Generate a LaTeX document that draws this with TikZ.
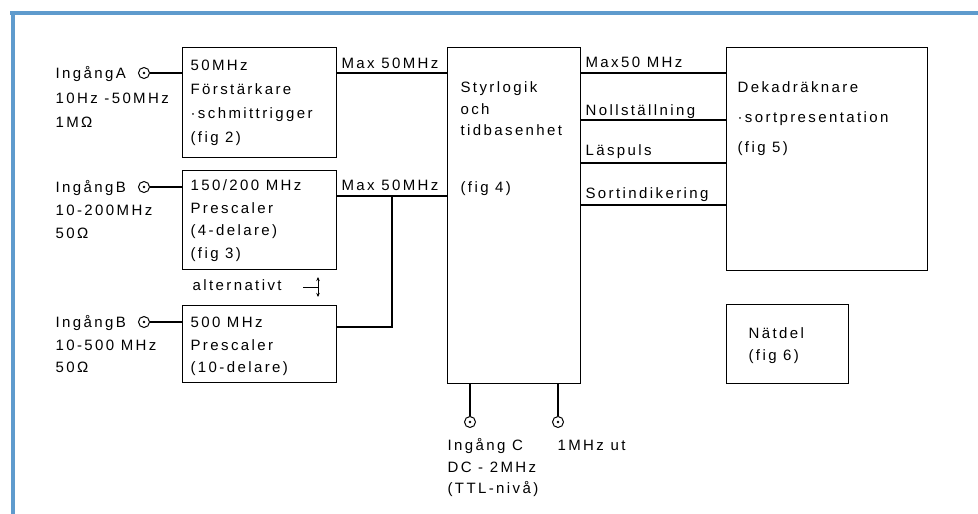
\documentclass[tikz,border=0pt]{standalone}
\usepackage{fontspec}
\setmainfont{Liberation Sans}[LetterSpace=16]
\usetikzlibrary{arrows.meta}
\definecolor{frameblue}{RGB}{95,155,205}
\newcommand\fsz[1]{\fontsize{15}{#1}\selectfont}
\begin{document}
\begin{tikzpicture}[x=1pt,y=-1pt,line width=1.2pt,
  box/.style={draw,line width=1.2pt,anchor=north west,inner sep=0pt},
  txt/.style={anchor=north west,inner sep=0pt,align=left},
  bnc/.style={circle,draw,minimum size=11pt,inner sep=0pt,line width=1pt},
  wire/.style={line width=1.2pt}]
\useasboundingbox (0,0) rectangle (978,514);
% frame
\draw[frameblue,line width=4pt] (10,13) -- (978,13);
\draw[frameblue,line width=4pt] (13,11) -- (13,514);
% boxes
\node[box,minimum width=154pt,minimum height=110pt] (a1) at (182,47) {};
\node[box,minimum width=154pt,minimum height=99pt] (b1) at (182,170) {};
\node[box,minimum width=154pt,minimum height=77pt] (c1) at (182,305) {};
\node[box,minimum width=133pt,minimum height=336pt] (styr) at (447,47) {};
\node[box,minimum width=201pt,minimum height=223pt] (dek) at (726,47) {};
\node[box,minimum width=122pt,minimum height=79pt] (net) at (726,304) {};
% connectors (BNC)
\node[bnc] (bncA) at (144,73) {};
\node[bnc] (bncB) at (144,187) {};
\node[bnc] (bncC) at (144,322) {};
\node[bnc] (bncD) at (470,422) {};
\node[bnc] (bncE) at (558,422) {};
\foreach \n in {bncA,bncB,bncC,bncD,bncE}{\fill (\n) circle (1.4pt);}
% texts
\node[txt,font=\fsz{24.5}] (labA) at (55,60.85) {\strut IngångA\\10Hz -50MHz\\1MΩ};
\node[txt,font=\fsz{24}] (ta1) at (190,53.2) {\strut 50MHz\\Förstärkare\\·schmittrigger\\(fig 2)};
\node[txt,font=\fsz{24}] (maxA) at (341,51.2) {\strut Max 50MHz};
\node[txt,font=\fsz{23}] (labB) at (55,175.9) {\strut IngångB\\10-200MHz\\50Ω};
\node[txt,font=\fsz{22.5}] (tb1) at (190,174.25) {\strut 150/200 MHz\\Prescaler\\(4-delare)\\(fig 3)};
\node[txt,font=\fsz{24}] (maxB) at (341,173.2) {\strut Max 50MHz};
\node[txt,font=\fsz{24}] (alt) at (192,273.2) {\strut alternativt};
\node[txt,font=\fsz{22.5}] (labC) at (55,311.25) {\strut IngångB\\10-500 MHz\\50Ω};
\node[txt,font=\fsz{22.5}] (tc1) at (190,311.25) {\strut 500 MHz\\Prescaler\\(10-delare)};
\node[txt,font=\fsz{21.5}] (tstyr) at (460,76.95) {\strut Styrlogik\\och\\tidbasenhet};
\node[txt,font=\fsz{24}] (fig4) at (460,175.2) {\strut (fig 4)};
\node[txt,font=\fsz{24}] (r1) at (585,50.2) {\strut Max50 MHz};
\node[txt,font=\fsz{24}] (r2) at (585,98.2) {\strut Nollställning};
\node[txt,font=\fsz{24}] (r3) at (585,138.2) {\strut Läspuls};
\node[txt,font=\fsz{24}] (r4) at (585,181.2) {\strut Sortindikering};
\node[txt,font=\fsz{30}] (tdek) at (737,71) {\strut Dekadräknare\\·sortpresentation\\(fig 5)};
\node[txt,font=\fsz{22}] (tnet) at (748,322.6) {\strut Nätdel\\(fig 6)};
\node[txt,font=\fsz{21.5}] (ingC) at (447,434.95) {\strut Ingång C\\DC - 2MHz\\(TTL-nivå)};
\node[txt,font=\fsz{24}] (ut) at (557,433.2) {\strut 1MHz ut};
% wires
\draw[wire] (bncA.east) -- (a1.west |- bncA);
\draw[wire] (bncB.east) -- (b1.west |- bncB);
\draw[wire] (bncC.east) -- (c1.west |- bncC);
\draw[wire] (a1.east |- bncA) -- (styr.west |- bncA);
\coordinate (jB) at (392,196);
\coordinate (jC) at (392,327);
\draw[wire] (b1.east |- jB) -- (styr.west |- jB);
\draw[wire] (jB) -- (jC) -- (c1.east |- jC);
\foreach \y in {73,120,163,205}{\draw[wire] (styr.east |- 0,\y) -- (dek.west |- 0,\y);}
\draw[wire] (styr.south -| bncD) -- (bncD.north);
\draw[wire] (styr.south -| bncE) -- (bncE.north);
% alternativt symbol
\coordinate (altA) at (303,287);
\coordinate (altB) at (318,287);
\coordinate (altT) at (318,277);
\coordinate (altU) at (318,297);
\draw[line width=1pt] (altA) -- (altB);
\draw[line width=1pt,{Stealth[length=4pt,width=3.5pt]}-{Stealth[length=4pt,width=3.5pt]}] (altT) -- (altU);
\end{tikzpicture}
\end{document}
